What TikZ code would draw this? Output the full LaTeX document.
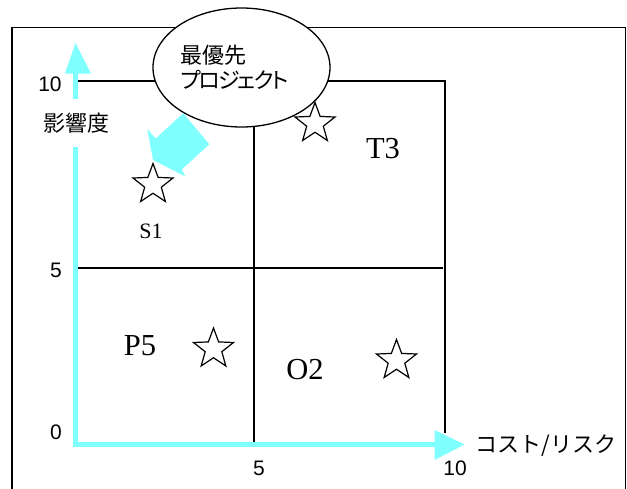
\documentclass[tikz,border=0pt]{standalone}
\usepackage{fontspec}
\setmainfont{Liberation Serif}
\newfontfamily\jfont{Noto Sans CJK JP}
\newfontfamily\jpfont[RawFeature=+palt]{Noto Sans CJK JP}
\newfontfamily\jtightfont[RawFeature=+palt,LetterSpace=-9]{Noto Sans CJK JP}
\newfontfamily\numfont{Liberation Sans}
\usetikzlibrary{shapes.geometric}
\definecolor{axiscyan}{RGB}{128,255,255}
\tikzset{
  gridline/.style={line width=1.3pt, black},
  axisline/.style={line width=5.5pt, axiscyan, line join=miter},
  starmark/.style={star, star points=5, star point ratio=2.4, minimum size=42pt, inner sep=0pt, draw, line width=1.2pt, fill=white},
  numlabel/.style={font=\numfont\fontsize{21}{21}\selectfont, inner sep=0pt},
  jlabel/.style={font=\jfont\fontsize{22}{22}\selectfont, inner sep=0pt},
  codelabel/.style={font=\fontsize{30.5}{30.5}\selectfont, inner sep=0pt},
}
\begin{document}
\begin{tikzpicture}[x=1pt,y=-1pt]
\useasboundingbox (0,0) rectangle (627,488);
% outer frame
\draw[line width=1.2pt] (12,492) -- (12,27.3) -- (625.5,27.3) -- (625.5,492);
% grid coordinates
\coordinate (tl) at (78,81);
\coordinate (tr) at (445,81);
\coordinate (br) at (445,433);
\coordinate (ml) at (75,268);
\coordinate (mr) at (443,268);
\coordinate (mt) at (254,100);
\coordinate (mb) at (254,442);
\draw[gridline] (tl) -- (tr) -- (br);
\draw[gridline] (ml) -- (mr);
\draw[gridline] (mt) -- (mb);
% cyan axes
\coordinate (ytop) at (75.5,73);
\coordinate (orig) at (75.5,444.5);
\coordinate (xend) at (435,444.5);
\draw[axisline] (ytop) -- (orig) -- (xend);
\fill[axiscyan] (65,73.5) -- (75.5,43) -- (91,73.5) -- cycle;
\fill[axiscyan] (434.5,430) -- (464.5,444.5) -- (434.5,460) -- cycle;
% block arrow
\fill[axiscyan] (183.3,113.3) -- (209.3,144.3) -- (181.7,169.5) -- (185.7,176.7)
  -- (153,160) -- (147.3,129) -- (155.7,138.5) -- cycle;
% ellipse
\node[draw, ellipse, line width=1.3pt, fill=white, minimum width=177pt, minimum height=119pt,
  inner sep=0pt, align=left, font=\jpfont\fontsize{22}{25}\selectfont] (top) at (241.5,67.5)
  {最優先\\{\jtightfont プロジェクト}\hspace*{14pt}};
% stars
\node[starmark] (sS) at (153,184.5) {};
\node[starmark] (sT) at (315,123.5) {};
\node[starmark] (sP) at (213.5,349) {};
\node[starmark] (sO) at (396.5,360.5) {};
% labels
\node[codelabel, font=\fontsize{22}{22}\selectfont] (lS) at (151,231) {S1};
\node[codelabel] (lT) at (383,149) {T3};
\node[codelabel] (lP) at (140,346) {P5};
\node[codelabel] (lO) at (305,370) {O2};
% axis labels
\node[numlabel] (n10y) at (50,84) {10};
\node[numlabel] (n5y) at (56,270) {5};
\node[numlabel] (n0) at (56,432) {0};
\node[numlabel] (n5x) at (259,468) {5};
\node[numlabel] (n10x) at (455,468) {10};
\node[jlabel, fill=white, inner xsep=2pt, inner ysep=14pt] (ylab) at (76.5,123) {影響度};
\node[jlabel] (xlab) at (546,446) {コスト/リスク};
\end{tikzpicture}
\end{document}
